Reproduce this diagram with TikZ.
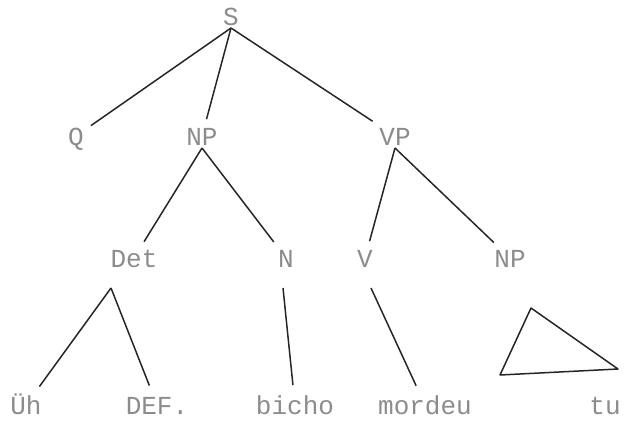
\documentclass[tikz,border=0pt]{standalone}
\usepackage{fontspec}
\setmonofont{Liberation Mono}

\begin{document}
\begin{tikzpicture}[x=1pt, y=-1pt,
  lbl/.style={text=black!45, inner sep=3pt, outer sep=0pt, text height=18pt, text depth=0pt,
    font=\ttfamily\fontsize{26}{26}\selectfont},
  branch/.style={line width=1.5pt, black!85, shorten >=5pt}]
\useasboundingbox (0,0) rectangle (630,429);
% labels of the tree
\node [lbl] (S) at (231,16) {S};
\foreach \n/\t/\x in {Q/Q/76, NP/NP/202, VP/VP/395}
	\node [lbl] (\n) at (\x,136) {\t};
\foreach \n/\t/\x in {Det/Det/134, N/N/286, V/V/365, NPb/NP/510}
	\node [lbl] (\n) at (\x,258) {\t};
\foreach \n/\t/\x in {Uh/Üh/26, DEF/DEF./157, bicho/bicho/295, mordeu/mordeu/425, tu/tu/605}
	\node [lbl] (\n) at (\x,405) {\t};
% branches
\foreach \a/\b in {S/Q, S/NP, S/VP, NP/Det, NP/N, VP/V, VP/NPb}
	\draw [branch] (\a.south) -- (\b);
\foreach \a/\dx/\b in {Det/-23/Uh, Det/-23/DEF, N/-3/bicho, V/6/mordeu}
	\draw [branch, shorten >=8pt] ([xshift=\dx pt, yshift=-18pt]\a.south) -- (\b);
% triangle under NP
\draw [branch, shorten >=0pt, line join=round] (531,308) -- (618,369) -- (500,375) -- cycle;
\end{tikzpicture}
\end{document}
